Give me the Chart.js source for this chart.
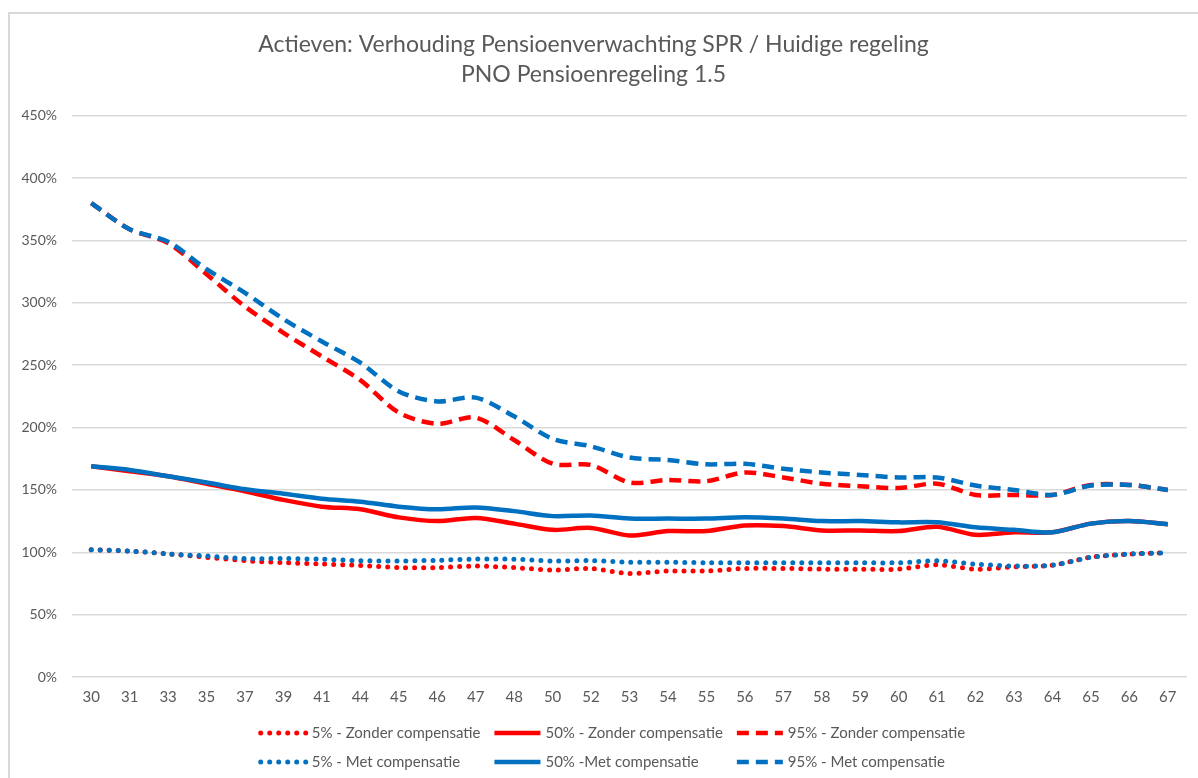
<!DOCTYPE html>
<html>
<head>
<meta charset="utf-8">
<script src="https://cdn.jsdelivr.net/npm/chart.js@4/dist/chart.umd.min.js"></script>
<style>
	body { margin: 0; background: #fff; }
	canvas { display: block; }
</style>
</head>
<body>
<canvas id="pensioenChart" width="1198" height="778"></canvas>
<script>
// leeftijden (x-as)
var ages = ['30', '31', '33', '35', '37', '39', '41', '44', '45', '46', '47', '48', '50', '52', '53',
	'54', '55', '56', '57', '58', '59', '60', '61', '62', '63', '64', '65', '66', '67'];

// Zonder compensatie
var p5Zonder = [102, 101, 98.7, 96, 93.3, 91.7, 90.6, 89.5, 87.7, 87.7, 89, 87.7, 85.8, 87, 83,
	85, 85, 87, 87, 86.5, 86.5, 86.5, 90, 86.5, 88.4, 89.7, 96, 98.6, 99.5];
var p50Zonder = [169, 165, 161, 155, 149, 142, 136.6, 134.5, 128, 125, 127.5, 123, 118, 119.5, 113.5,
	117, 117, 121.5, 121, 117.5, 117.5, 117, 120.5, 114, 116, 116, 123, 125, 122.5];
var p95Zonder = [380, 359, 348, 323, 297, 276, 257, 238, 212, 203, 208, 190, 171, 170, 156,
	158, 157, 164, 160, 155, 153, 151.5, 155, 146, 146, 146, 154, 154, 150];

// Met compensatie
var p5Met = [102, 101, 98.7, 97, 95, 95, 94.4, 93.3, 93, 93.6, 94.6, 94.4, 93, 93.3, 92,
	92, 91.6, 91.6, 91.6, 91.6, 91.6, 91.6, 93.2, 90.5, 89, 89.7, 96, 98.6, 99.5];
var p50Met = [169, 166, 161, 156, 150.5, 147, 143, 140.6, 136.6, 134.5, 136, 133, 129, 129.5, 127,
	127, 127, 128, 127, 125, 125, 124, 124, 120, 118, 116, 123, 125, 122.5];
var p95Met = [380, 359, 349, 327, 308, 287, 269, 252, 229, 221, 224, 209, 191, 185, 176,
	174, 170.5, 171, 167, 164, 162, 160, 160, 153.5, 150, 146, 153.5, 154, 150];

var yTicks = [0, 50, 100, 150, 200, 250, 300, 350, 400, 450];

var RED = '#FF0000';
var BLUE = '#0070C0';
var TEXT = '#595959';
var FONT = 'Lato, "Open Sans", sans-serif';

var dotted = [0, 9];
var dashed = [12, 7];

function line(label, data, color, dash, order) {
	return {
		label: label,
		data: data,
		borderColor: color,
		backgroundColor: color,
		borderWidth: dash === dotted ? 5 : 4.5,
		borderDash: dash,
		borderCapStyle: dash === dotted ? 'round' : 'butt',
		borderJoinStyle: 'round',
		pointRadius: 0,
		tension: 0.3,
		fill: false,
		order: order
	};
}

// legenda in 3 kolommen, 2 rijen
var legendPlugin = {
	id: 'excelLegend',
	afterDraw: function(chart) {
		var ctx = chart.ctx;
		var sets = chart.data.datasets;
		ctx.save();
		ctx.font = '15px ' + FONT;
		var sample = 48, gap = 5, colGap = 12;
		var colW = [0, 0, 0];
		sets.forEach(function(ds, i) {
			colW[i % 3] = Math.max(colW[i % 3], ctx.measureText(ds.label).width);
		});
		var total = 0;
		for (var c = 0; c < 3; c++) total += sample + gap + colW[c];
		total += colGap * 2;
		var x0 = 612 - total / 2;
		var colX = [x0];
		colX[1] = colX[0] + sample + gap + colW[0] + colGap;
		colX[2] = colX[1] + sample + gap + colW[1] + colGap;
		var rowY = [733, 762];
		sets.forEach(function(ds, i) {
			var x = colX[i % 3], y = rowY[Math.floor(i / 3)];
			ctx.beginPath();
			ctx.strokeStyle = ds.borderColor;
			ctx.lineWidth = ds.borderWidth;
			ctx.lineCap = ds.borderCapStyle;
			ctx.setLineDash(ds.borderDash);
			ctx.moveTo(x + 2, y);
			ctx.lineTo(x + sample, y);
			ctx.stroke();
			ctx.setLineDash([]);
			ctx.fillStyle = TEXT;
			ctx.textBaseline = 'middle';
			ctx.textAlign = 'left';
			ctx.fillText(ds.label, x + sample + gap, y);
		});
		ctx.restore();
	}
};

// rand van het grafiekgebied
var borderPlugin = {
	id: 'chartBorder',
	beforeDraw: function(chart) {
		var ctx = chart.ctx;
		ctx.save();
		ctx.strokeStyle = '#D9D9D9';
		ctx.lineWidth = 2;
		ctx.beginPath();
		ctx.moveTo(9, chart.height);
		ctx.lineTo(9, 13);
		ctx.lineTo(chart.width, 13);
		ctx.stroke();
		ctx.restore();
	}
};

var ctx = document.getElementById('pensioenChart');
var pensioenChart = new Chart(ctx, {
	type: 'line',
	data: {
		labels: ages,
		datasets: [
			line('5% - Zonder compensatie', p5Zonder, RED, dotted, 1),
			line('50% - Zonder compensatie', p50Zonder, RED, [], 1),
			line('95% - Zonder compensatie', p95Zonder, RED, dashed, 1),
			line('5% - Met compensatie', p5Met, BLUE, dotted, 0),
			line('50% -Met compensatie', p50Met, BLUE, [], 0),
			line('95% - Met compensatie', p95Met, BLUE, dashed, 0)
		]
	},
	options: {
		responsive: false,
		animation: false,
		layout: {
			padding: { left: 0, right: 11, top: 0, bottom: 0 }
		},
		plugins: {
			legend: { display: false },
			tooltip: { enabled: false },
			title: {
				display: true,
				text: ['Actieven: Verhouding Pensioenverwachting SPR / Huidige regeling', 'PNO Pensioenregeling 1.5'],
				color: TEXT,
				font: { family: FONT, size: 23, weight: 'normal', lineHeight: 1.3 },
				padding: { top: 30, bottom: 26 }
			}
		},
		scales: {
			x: {
				offset: true,
				grid: { display: false, drawTicks: false },
				border: { display: false },
				ticks: {
					color: TEXT,
					font: { family: FONT, size: 15 },
					padding: 11,
					autoSkip: false,
					maxRotation: 0
				},
				afterFit: function(scale) { scale.height = 101; }
			},
			y: {
				min: 0,
				max: 450,
				grid: { color: '#D9D9D9', lineWidth: 1.5, drawTicks: false },
				border: { display: false },
				afterBuildTicks: function(scale) {
					scale.ticks = yTicks.map(function(v) { return { value: v }; });
				},
				ticks: {
					color: TEXT,
					font: { family: FONT, size: 14 },
					padding: 15,
					callback: function(v) { return v + '%'; }
				},
				afterFit: function(scale) { scale.width = 72; }
			}
		}
	},
	plugins: [borderPlugin, legendPlugin]
});
</script>
</body>
</html>
